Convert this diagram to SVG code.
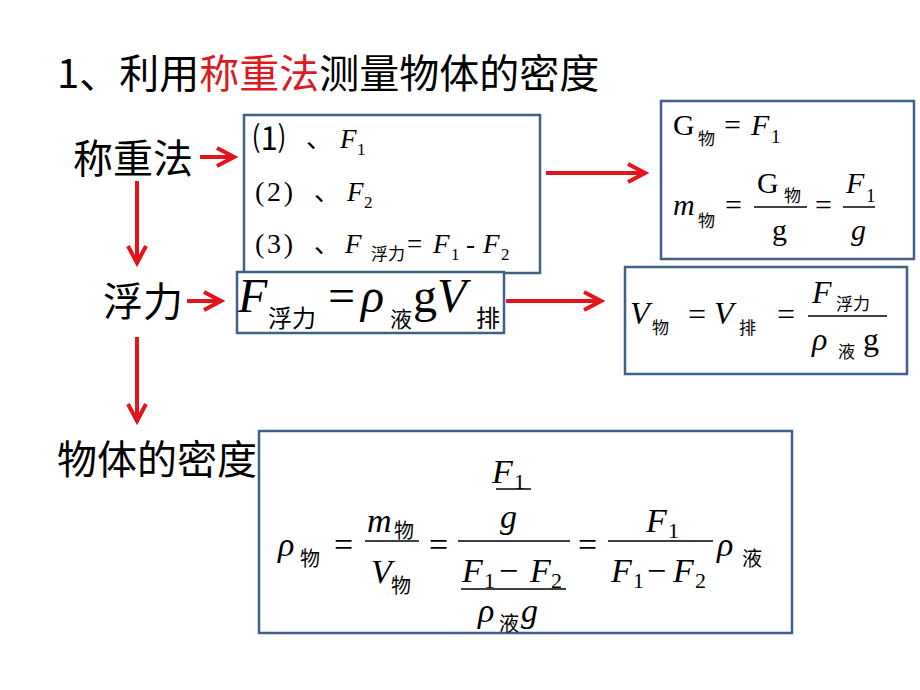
<svg xmlns="http://www.w3.org/2000/svg" width="920" height="690" viewBox="0 0 920 690">
<defs>
<style>
.cjk{font-family:"Noto Sans CJK SC","Noto Sans",sans-serif;fill:#000}
.m{font-family:"Liberation Serif","Times New Roman",Tinos,"DejaVu Serif",serif;fill:#000}
.i{font-style:italic}
.box{fill:#fff;stroke:#40608a;stroke-width:2.5}
.arr{stroke:#e3141b;stroke-width:4;fill:none}
.fl{stroke:#000;stroke-width:1.5}
</style>
<marker id="ah" markerUnits="userSpaceOnUse" markerWidth="24" markerHeight="24" viewBox="0 0 24 24" refX="20" refY="12" orient="auto">
<path d="M3,3 L20,12 L3,21" fill="none" stroke="#e3141b" stroke-width="4"/>
</marker>
</defs>
<rect width="920" height="690" fill="#fff"/>

<g id="title">
<text class="cjk" x="57" y="88" font-size="40">1、利用<tspan fill="#dc1a1f">称重法</tspan>测量物体的密度</text>
</g>

<g id="label-chengzhongfa"><text class="cjk" x="73" y="173" font-size="40">称重法</text></g>
<g id="label-fuli"><text class="cjk" x="103" y="316" font-size="40">浮力</text></g>
<g id="label-midu"><text class="cjk" x="57" y="474" font-size="40">物体的密度</text></g>

<g id="connectors">
<line class="arr" x1="200" y1="157" x2="234" y2="157" marker-end="url(#ah)"/>
<line class="arr" x1="546" y1="173" x2="645" y2="173" marker-end="url(#ah)"/>
<line class="arr" x1="137" y1="181" x2="137" y2="263" marker-end="url(#ah)"/>
<line class="arr" x1="187" y1="301" x2="221" y2="301" marker-end="url(#ah)"/>
<line class="arr" x1="506" y1="301" x2="601" y2="301" marker-end="url(#ah)"/>
<line class="arr" x1="137" y1="337" x2="137" y2="421" marker-end="url(#ah)"/>
</g>

<g id="box-steps">
<rect class="box" x="244" y="115" width="296" height="158"/>
<text class="cjk" x="253" y="150" font-size="32">⑴</text>
<text class="cjk" x="306" y="148" font-size="26">、</text>
<text class="m i" x="340" y="148" font-size="27">F</text>
<text class="m" x="357" y="155" font-size="17">1</text>

<text class="m" x="255" y="201" font-size="28" textLength="38" lengthAdjust="spacing">(2)</text>
<text class="cjk" x="314" y="201" font-size="26">、</text>
<text class="m i" x="347" y="201" font-size="27">F</text>
<text class="m" x="364" y="208" font-size="17">2</text>

<text class="m" x="255" y="253" font-size="28" textLength="38" lengthAdjust="spacing">(3)</text>
<text class="cjk" x="314" y="253" font-size="26">、</text>
<text class="m i" x="345" y="253" font-size="27">F</text>
<text class="cjk" x="371" y="260" font-size="17">浮力</text>
<text class="m" x="407" y="253" font-size="27">=</text>
<text class="m i" x="433" y="253" font-size="27">F</text>
<text class="m" x="451" y="260" font-size="17">1</text>
<text class="m" x="466" y="253" font-size="27">-</text>
<text class="m i" x="483" y="253" font-size="27">F</text>
<text class="m" x="501" y="260" font-size="17">2</text>
</g>

<g id="box-buoyancy">
<rect class="box" x="237" y="272" width="267" height="61"/>
<text class="m i" x="238" y="312" font-size="48">F</text>
<text class="cjk" x="268" y="327" font-size="24">浮力</text>
<text class="m" x="328" y="312" font-size="48">=</text>
<text class="m i" x="361" y="312" font-size="48">ρ</text>
<text class="cjk" x="390" y="327" font-size="22">液</text>
<text class="m" x="413" y="312" font-size="48">g</text>
<text class="m i" x="437" y="312" font-size="48">V</text>
<text class="cjk" x="476" y="327" font-size="24">排</text>
</g>

<g id="box-mass">
<rect class="box" x="661" y="101" width="253" height="158"/>
<text class="m" x="673" y="135" font-size="30">G</text>
<text class="cjk" x="698" y="145" font-size="17">物</text>
<text class="m" x="724" y="135" font-size="30">=</text>
<text class="m i" x="751" y="135" font-size="30">F</text>
<text class="m" x="771" y="143" font-size="19">1</text>

<text class="m i" x="673" y="215" font-size="30">m</text>
<text class="cjk" x="698" y="227" font-size="17">物</text>
<text class="m" x="725" y="215" font-size="30">=</text>
<line class="fl" x1="754" y1="207" x2="807" y2="207"/>
<text class="m" x="757" y="193" font-size="30">G</text>
<text class="cjk" x="784" y="202" font-size="17">物</text>
<text class="m" x="772" y="240" font-size="30">g</text>
<text class="m" x="815" y="215" font-size="30">=</text>
<line class="fl" x1="843" y1="207" x2="875" y2="207"/>
<text class="m i" x="846" y="193" font-size="30">F</text>
<text class="m" x="866" y="202" font-size="19">1</text>
<text class="m i" x="851" y="240" font-size="30">g</text>
</g>

<g id="box-volume">
<rect class="box" x="625" y="267" width="282" height="107"/>
<text class="m i" x="630" y="324" font-size="32">V</text>
<text class="cjk" x="652" y="334" font-size="17">物</text>
<text class="m" x="688" y="325" font-size="32">=</text>
<text class="m i" x="714" y="324" font-size="32">V</text>
<text class="cjk" x="739" y="334" font-size="17">排</text>
<text class="m" x="777" y="325" font-size="32">=</text>
<line class="fl" x1="808" y1="316" x2="887" y2="316"/>
<text class="m i" x="812" y="303" font-size="32">F</text>
<text class="cjk" x="836" y="310" font-size="17">浮力</text>
<text class="m i" x="812" y="350" font-size="32">ρ</text>
<text class="cjk" x="838" y="358" font-size="17">液</text>
<text class="m" x="863" y="350" font-size="32">g</text>
</g>

<g id="box-density">
<rect class="box" x="259" y="431" width="533" height="202"/>
<text class="m i" x="278" y="556" font-size="34">ρ</text>
<text class="cjk" x="300" y="566" font-size="20">物</text>
<text class="m" x="334" y="556" font-size="34">=</text>
<line class="fl" x1="365" y1="541" x2="419" y2="541"/>
<text class="m i" x="367" y="532" font-size="34">m</text>
<text class="cjk" x="394" y="538" font-size="20">物</text>
<text class="m i" x="371" y="583" font-size="34">V</text>
<text class="cjk" x="391" y="593" font-size="20">物</text>
<text class="m" x="429" y="556" font-size="34">=</text>

<text class="m i" x="492" y="483" font-size="34">F</text>
<text class="m" x="514" y="489" font-size="22">1</text>
<line class="fl" x1="496" y1="489" x2="531" y2="489"/>
<text class="m i" x="500" y="528" font-size="34">g</text>
<line class="fl" x1="458" y1="541" x2="570" y2="541"/>
<text class="m i" x="462" y="582" font-size="34">F</text>
<text class="m" x="484" y="588" font-size="22">1</text>
<text class="m" x="499" y="582" font-size="34">−</text>
<text class="m i" x="530" y="582" font-size="34">F</text>
<text class="m" x="551" y="588" font-size="22">2</text>
<line class="fl" x1="461" y1="589" x2="566" y2="589"/>
<text class="m i" x="478" y="622" font-size="34">ρ</text>
<text class="cjk" x="499" y="631" font-size="20">液</text>
<text class="m i" x="521" y="622" font-size="34">g</text>

<text class="m" x="578" y="556" font-size="34">=</text>
<line class="fl" x1="608" y1="541" x2="713" y2="541"/>
<text class="m i" x="646" y="532" font-size="34">F</text>
<text class="m" x="668" y="538" font-size="22">1</text>
<text class="m i" x="611" y="582" font-size="34">F</text>
<text class="m" x="633" y="588" font-size="22">1</text>
<text class="m" x="647" y="582" font-size="34">−</text>
<text class="m i" x="673" y="582" font-size="34">F</text>
<text class="m" x="695" y="588" font-size="22">2</text>
<text class="m i" x="717" y="556" font-size="34">ρ</text>
<text class="cjk" x="742" y="566" font-size="20">液</text>
</g>
</svg>
